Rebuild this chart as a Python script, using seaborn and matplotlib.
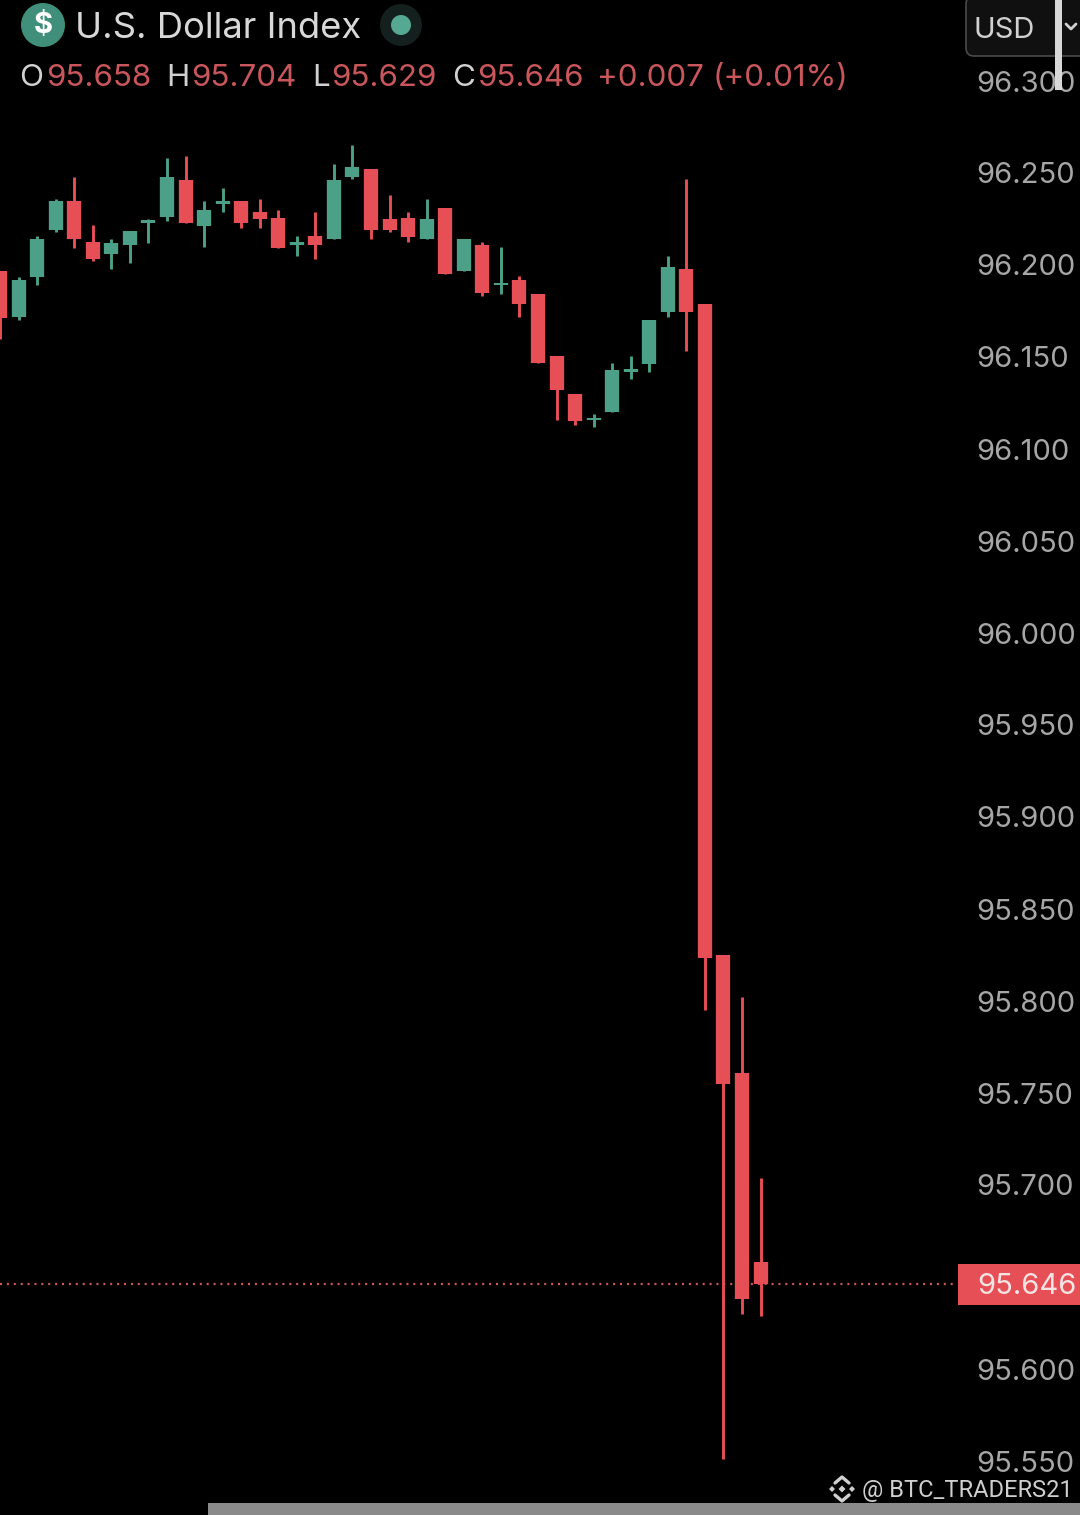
import pandas as pd
import matplotlib
matplotlib.use('Agg')
import matplotlib.pyplot as plt
import matplotlib.patches as mpatches
from matplotlib.lines import Line2D
from matplotlib.transforms import IdentityTransform
import seaborn as sns

# candle values, oldest first
opens = [96.197, 96.172, 96.1935, 96.219, 96.235, 96.2125, 96.206, 96.211, 96.223, 96.226,
         96.246, 96.221, 96.233, 96.235, 96.229, 96.2255, 96.211, 96.216, 96.214, 96.248,
         96.252, 96.225, 96.2255, 96.214, 96.231, 96.197, 96.211, 96.189, 96.192, 96.184,
         96.1505, 96.130, 96.116, 96.120, 96.142, 96.146, 96.1745, 96.198, 96.179, 95.825,
         95.761, 95.658]
closes = [96.171, 96.192, 96.214, 96.235, 96.214, 96.203, 96.212, 96.2185, 96.2245, 96.248,
          96.223, 96.230, 96.235, 96.223, 96.225, 96.209, 96.2125, 96.211, 96.246, 96.253,
          96.219, 96.219, 96.215, 96.225, 96.195, 96.214, 96.185, 96.190, 96.179, 96.147,
          96.132, 96.115, 96.117, 96.143, 96.1435, 96.170, 96.199, 96.1745, 95.8235, 95.755,
          95.638, 95.646]
highs = [96.197, 96.1935, 96.216, 96.236, 96.248, 96.222, 96.214, 96.2185, 96.225, 96.258,
         96.259, 96.235, 96.242, 96.235, 96.236, 96.230, 96.216, 96.229, 96.255, 96.265,
         96.252, 96.238, 96.229, 96.236, 96.231, 96.214, 96.2125, 96.210, 96.194, 96.184,
         96.1505, 96.130, 96.119, 96.147, 96.1505, 96.170, 96.205, 96.247, 96.179, 95.825,
         95.802, 95.704]
lows = [96.160, 96.170, 96.189, 96.218, 96.209, 96.202, 96.198, 96.201, 96.212, 96.224,
        96.223, 96.210, 96.229, 96.220, 96.220, 96.209, 96.205, 96.203, 96.214, 96.247,
        96.214, 96.218, 96.2125, 96.214, 96.195, 96.197, 96.183, 96.184, 96.172, 96.147,
        96.116, 96.113, 96.112, 96.120, 96.138, 96.142, 96.172, 96.153, 95.795, 95.551,
        95.630, 95.629]
price_ticks = [96.300, 96.250, 96.200, 96.150, 96.100, 96.050, 96.000, 95.950,
               95.900, 95.850, 95.800, 95.750, 95.700, 95.600, 95.550]
last_price = 95.646

GREEN = '#4ca087'
RED = '#e64f55'
DIM_RED = '#c9565b'
W, H = 1080, 1515

sns.set_theme(style='dark', rc={'figure.facecolor': 'black', 'axes.facecolor': 'black',
                                'savefig.facecolor': 'black', 'axes.grid': False})
plt.rcParams['font.family'] = ['Inter', 'Roboto', 'DejaVu Sans']

df = pd.DataFrame({'open': opens, 'high': highs, 'low': lows, 'close': closes})
df['idx'] = df.index
df['dir'] = ['up' if c > o else 'down' for o, c in zip(opens, closes)]

# long form: two rows per candle, one line each for wick and body
wicks = df.melt(id_vars=['idx', 'dir'], value_vars=['high', 'low'], value_name='price')
bodies = df.melt(id_vars=['idx', 'dir'], value_vars=['open', 'close'], value_name='price')
palette = {'up': GREEN, 'down': RED}

fig = plt.figure(figsize=(W / 100, H / 100), dpi=100)
ax = fig.add_axes([0, 0, 1, 1])

sns.lineplot(data=wicks, x='idx', y='price', hue='dir', units='idx', estimator=None, palette=palette,
             linewidth=2.1, solid_capstyle='butt', legend=False, ax=ax)
sns.lineplot(data=bodies, x='idx', y='price', hue='dir', units='idx', estimator=None, palette=palette,
             linewidth=10.3, solid_capstyle='butt', legend=False, ax=ax)

ax.set_xlim(0, W / 18.55)
ax.set_ylim(96.3 - (H - 81) / 1840, 96.3 + 81 / 1840)
ax.set_xlabel('')
ax.set_ylabel('')
ax.set_xticks([])
ax.set_yticks(price_ticks)
ax.set_yticklabels([f'{p:.3f}' for p in price_ticks])
ax.yaxis.tick_right()
ax.tick_params(axis='y', length=0, pad=-75, labelsize=21, labelcolor='#a6a6a6')
sns.despine(ax=ax, left=True, bottom=True, right=True, top=True)

# last price line
ax.plot([0, 955 / 18.55], [last_price, last_price], color='#d4565a', lw=1.6, ls=(0, (0.9, 2.2)))


def label(x, y, s, color, size=21, **kw):
    fig.text(x / W, 1 - y / H, s, color=color, fontsize=size, va='center', ha=kw.pop('ha', 'left'), **kw)


def add(patch):
    patch.set_transform(IdentityTransform())
    fig.add_artist(patch)


# price tag
add(mpatches.Rectangle((958, H - 1305), 122, 41, color=RED, lw=0))
label(977, 1287, f'{last_price:.3f}', '#f4e4e4')

# header
add(mpatches.Circle((43, H - 25), 22, color='#3f8f7a', lw=0))
label(43, 26, '$', 'white', size=21, ha='center', fontweight='bold')
label(75, 29, 'U.S. Dollar Index', '#d8d8d8', size=26.2)
add(mpatches.Circle((401, H - 25), 21, color='#14201e', lw=0))
add(mpatches.Circle((401, H - 25), 10, color='#55a892', lw=0))

for x, s in [(19, 'O'), (166, 'H'), (312, 'L'), (452, 'C')]:
    label(x, 78, s, '#d0d0d0', size=22.6)
for x, s in [(46, '95.658'), (191, '95.704'), (331, '95.629'), (477, '95.646'),
             (597, '+0.007'), (713, '(+0.01%)')]:
    label(x, 78, s, DIM_RED, size=22.6)

# currency box, scroll bars
add(mpatches.FancyBboxPatch((966, H - 56), 130, 60, boxstyle='round,pad=0,rounding_size=8',
                            facecolor='#101010', edgecolor='#4a4a4a', lw=1.2))
label(974, 30, 'USD', '#d0d0d0', size=21)
add(Line2D([1066, 1071, 1076], [H - 24, H - 29, H - 24], color='#d0d0d0', lw=2))
add(mpatches.Rectangle((1055, H - 90), 7, 90, color='#d8d8d8', lw=0))
add(mpatches.Rectangle((208, 0), W - 208, 12, color='#8a8a8a', lw=0))

# watermark
cx, cy = 842, H - 1489
mark = '#cfcfcf'
for dx, dy, r in [(0, 0, 3.5), (-10, 0, 3), (10, 0, 3)]:
    add(mpatches.RegularPolygon((cx + dx, cy + dy), 4, radius=r, color=mark, lw=0))
add(Line2D([cx - 7, cx, cx + 7], [cy + 6, cy + 12, cy + 6], color=mark, lw=2.4))
add(Line2D([cx - 7, cx, cx + 7], [cy - 6, cy - 12, cy - 6], color=mark, lw=2.4))
label(862, 1490, '@ BTC_TRADERS21', '#cfcfcf', size=17, family='Roboto')

fig.savefig('out.png', dpi=100)
